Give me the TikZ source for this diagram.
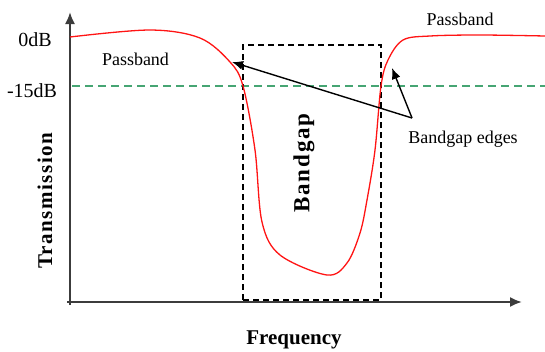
\documentclass[tikz,border=0pt]{standalone}
\usepackage{fontspec}
\setmainfont{Liberation Serif}
\newfontfamily\bgfont[LetterSpace=8]{Liberation Serif}
\newfontfamily\trfont[LetterSpace=7]{Liberation Serif}
\usetikzlibrary{arrows.meta}
\definecolor{axisgray}{RGB}{60,60,60}
\definecolor{curvered}{RGB}{255,20,20}
\definecolor{levelgreen}{RGB}{70,165,115}
\begin{document}
\begin{tikzpicture}[x=1pt,y=-1pt,
  lbl/.style={font=\fontsize{18}{20}\selectfont, inner sep=0pt},
  dblbl/.style={font=\fontsize{20}{22}\selectfont, inner sep=0pt},
  axisline/.style={draw=axisgray, line width=2pt, -{Latex[length=12pt,width=10pt]}},
  edgearrow/.style={draw=black, line width=1.4pt, -{Latex[length=11pt,width=9pt]}},
  gapframe/.style={draw=black, line width=1.2pt, dash pattern=on 6pt off 4pt, minimum width=138pt, minimum height=255pt, inner sep=0pt}]
\useasboundingbox (0,0) rectangle (545,351);
% level line
\draw[levelgreen, line width=1.2pt, dash pattern=on 8pt off 5pt] (72,86) -- (545,86);
% bandgap box
\node[gapframe] (gapbox) at (312,172.5) {};
% axes
\coordinate (origin) at (70,305);
\coordinate (ytop) at (70,12);
\coordinate (xstart) at (67,302);
\coordinate (xend) at (522,302);
\draw[axisline] (origin) -- (ytop);
\draw[axisline] (xstart) -- (xend);
% curve
\draw[curvered, line width=1.3pt] plot[smooth, tension=0.55] coordinates {
 (70,37) (150,30) (200,38) (230,62) (243,86) (255,150) (262,222) (280,255)
 (327,275) (347,263) (360,233) (367,200) (375,150) (381,86) (388,60)
 (403,40) (430,36) (480,35) (545,36)};
% arrows
\coordinate (tail) at (412,118);
\coordinate (edgeL) at (232,62);
\coordinate (edgeR) at (392,68);
\draw[edgearrow] (tail) -- (edgeL);
\draw[edgearrow] (tail) -- (edgeR);
% labels
\node[dblbl] (zerodb) at (35,40) {0dB};
\node[dblbl] (m15db) at (32,91) {-15dB};
\node[lbl] (passL) at (135.5,59) {Passband};
\node[lbl] (passR) at (460,19) {Passband};
\node[lbl] (edges) at (463,139) {Bandgap edges};
\node[inner sep=0pt, rotate=90, font=\fontsize{23}{26}\selectfont\bgfont\bfseries] (bandgap) at (304,163) {Bandgap};
\node[inner sep=0pt, rotate=90, font=\fontsize{21}{24}\selectfont\trfont\bfseries] (trans) at (45,201) {Transmission};
\node[inner sep=0pt, font=\fontsize{21}{24}\selectfont\bfseries] (freq) at (294,340) {Frequency};
\end{tikzpicture}
\end{document}
